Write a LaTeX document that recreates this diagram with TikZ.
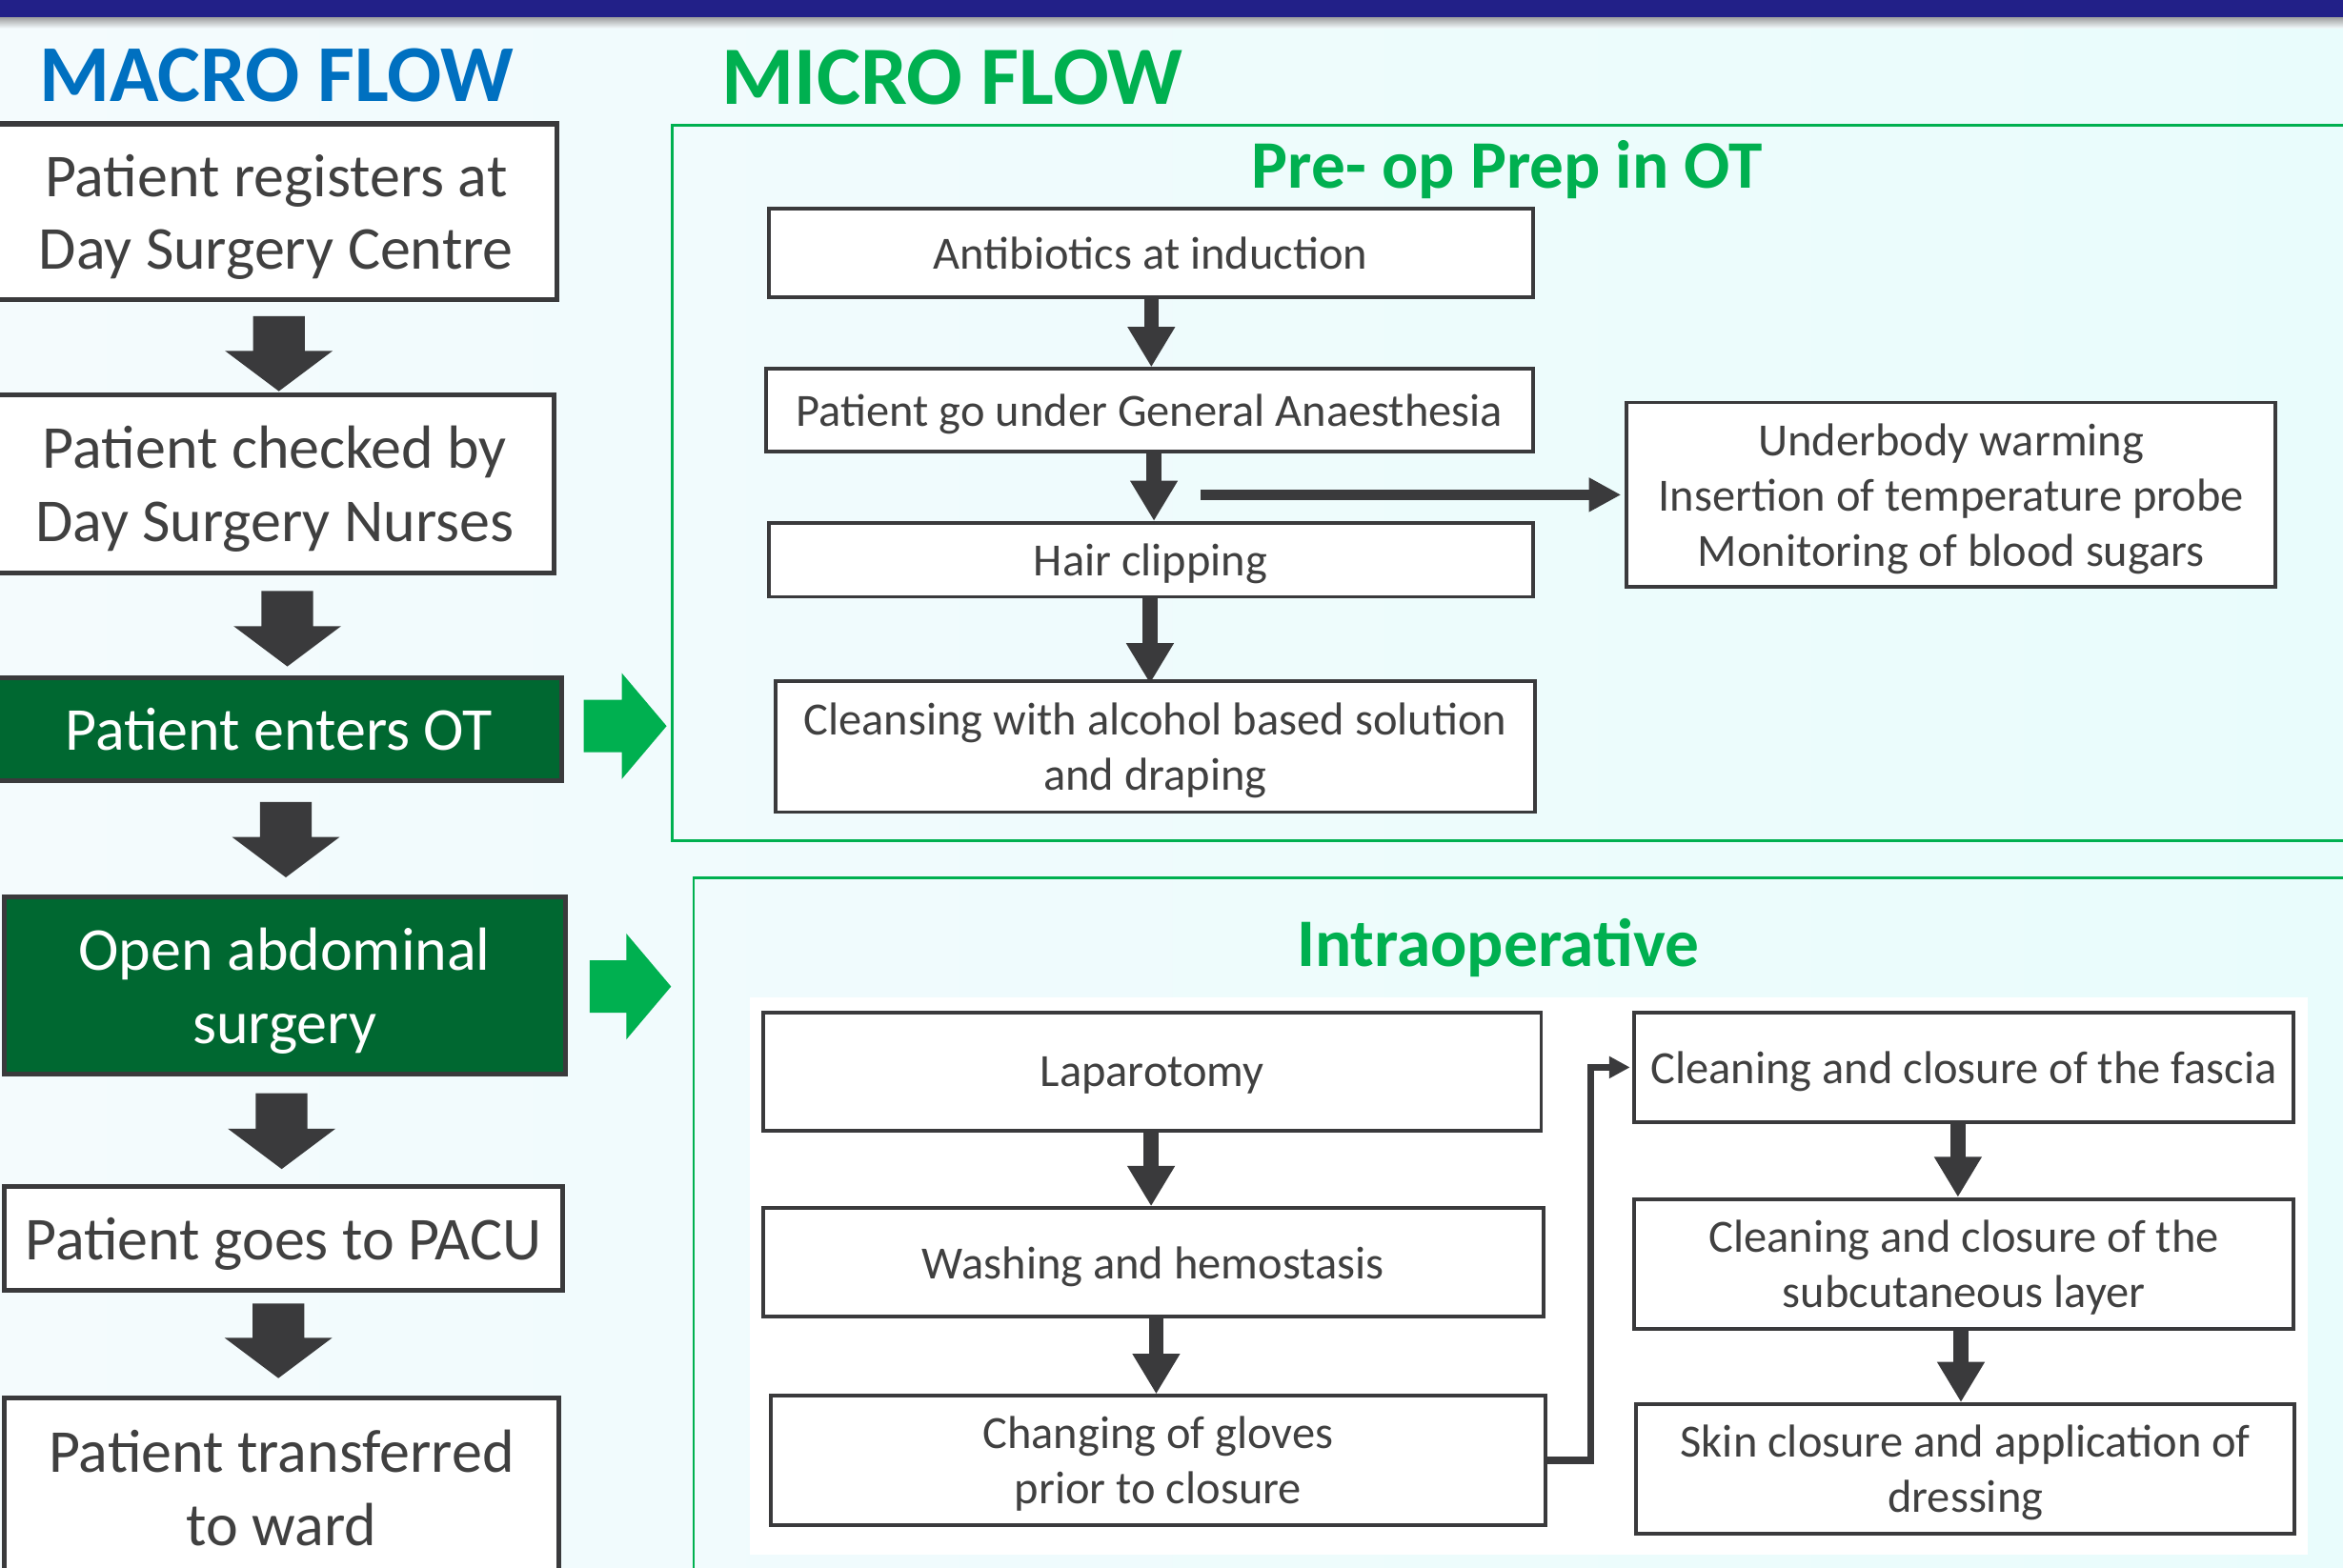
\documentclass[tikz,border=0pt]{standalone}
\usepackage{fontspec}
\setmainfont{Carlito}
\usetikzlibrary{calc,arrows.meta}

\definecolor{navy}{RGB}{34,32,136}
\definecolor{bgL}{RGB}{244,251,253}
\definecolor{bgR}{RGB}{233,252,252}
\definecolor{titleblue}{RGB}{0,112,192}
\definecolor{brightgreen}{RGB}{0,176,80}
\definecolor{darkgreen}{RGB}{0,104,49}
\definecolor{ink}{RGB}{58,58,60}
\definecolor{txt}{RGB}{64,64,64}

\tikzset{
  macrobox/.style={draw=ink, line width=3.2pt, fill=white, text=txt, align=center,
    inner sep=0pt, text depth=0pt, font=\fontsize{40.8}{49}\selectfont},
  macrohot/.style={macrobox, fill=darkgreen, text=white},
  microbox/.style={draw=ink, line width=2.5pt, fill=white, text=txt, align=center,
    inner sep=0pt, text depth=0pt, font=\fontsize{30.9}{37}\selectfont},
  panelframe/.style={draw=brightgreen, line width=1.8pt, inner sep=0pt},
  flowtitle/.style={font=\fontsize{54}{60}\selectfont\bfseries, anchor=base west, inner sep=0pt},
  paneltitle/.style={font=\fontsize{45.5}{50}\selectfont\bfseries, text=brightgreen, anchor=base, inner sep=0pt},
  vstep/.style={draw=ink, line width=10pt, -{Triangle[length=27pt,width=30pt]}},
  hstep/.style={draw=ink, line width=7.4pt, -{Triangle[length=21.5pt,width=21.5pt]}},
  elbowstep/.style={draw=ink, line width=4.7pt, -{Triangle[length=14pt,width=14pt]}},
}

% thick block arrow pointing down: #1 top of the shaft, #2 tip (only its y is used)
\newcommand\macroarrow[2]{%
  \fill[ink] let \p1=#1, \p2=#2 in
    (\x1-17.3pt,\y1) -- (\x1+17.3pt,\y1) -- (\x1+17.3pt,\y2+27pt) -- (\x1+36pt,\y2+27pt)
    -- (\x1,\y2) -- (\x1-36pt,\y2+27pt) -- (\x1-17.3pt,\y2+27pt) -- cycle;}

% green block arrow pointing right: #1 tail of the shaft, #2 tip (only its x is used)
\newcommand\sidearrow[2]{%
  \fill[brightgreen] let \p1=#1, \p2=#2 in
    (\x1,\y1+17.5pt) -- (\x2-30pt,\y1+17.5pt) -- (\x2-30pt,\y1+35.5pt) -- (\x2,\y1)
    -- (\x2-30pt,\y1-35.5pt) -- (\x2-30pt,\y1-17.5pt) -- (\x1,\y1-17.5pt) -- cycle;}

\begin{document}
\begin{tikzpicture}[x=1pt, y=-1pt]
\useasboundingbox (0,0) rectangle (1568,1049);
\clip (0,0) rectangle (1568,1049);

% background and header band
\shade[left color=bgL, right color=bgR] (0,0) rectangle (1568,1049);
\shade[top color=black!40, bottom color=bgL] (0,11) rectangle (1568,19);
\fill[navy] (0,0) rectangle (1568,11.7);

% headings
\node[flowtitle, text=titleblue] (macrotitle) at (26,68) {MACRO FLOW};
\node[flowtitle, text=brightgreen, font=\fontsize{55.5}{60}\selectfont\bfseries] (microtitle) at (483,70) {MICRO FLOW};

% panels of the micro flow
\node[panelframe, minimum width=1130pt, minimum height=478.5pt] (preop) at (1015,323.25) {};
\node[panelframe, minimum width=1115.8pt, minimum height=477.5pt] (intra) at (1022.1,826.25) {};
\fill[white] (502,667.8) rectangle (1544.3,1040.5);
\node[paneltitle] (preoptitle) at (1008.75,126) {Pre- op Prep in OT};
\node[paneltitle] (intratitle) at (1002.45,646.6) {Intraoperative};

% macro flow
\node[macrobox, minimum width=375.5pt, minimum height=117.9pt] (b1) at (184.75,141.85) {Patient registers at\\Day Surgery Centre};
\node[macrobox, minimum width=373.7pt, minimum height=118.9pt] (b2) at (183.85,324) {Patient checked by\\Day Surgery Nurses};
\node[macrohot, minimum width=379pt, minimum height=68.8pt] (b3) at (186.5,488.1) {Patient enters OT};
\node[macrohot, minimum width=375.7pt, minimum height=118.5pt] (b4) at (190.45,659.85) {Open abdominal\\surgery};
\node[macrobox, minimum width=374.1pt, minimum height=69.1pt] (b5) at (189.65,829.05) {Patient goes to PACU};
\node[macrobox, minimum width=371.5pt, minimum height=120.2pt] (b6) at (188.35,996) {Patient transferred\\to ward};

\macroarrow{($(b1.south)+(1.85,9.2)$)}{($(b2.north)+(0,-1.1)$)}
\macroarrow{($(b2.south)+(8.45,10.5)$)}{($(b3.north)+(0,-6)$)}
\macroarrow{($(b3.south)+(4.8,12.7)$)}{($(b4.north)+(0,-11.7)$)}
\macroarrow{($(b4.south)+(-1.95,11.1)$)}{($(b5.north)+(0,-10.4)$)}
\macroarrow{($(b5.south)+(-3.35,7.3)$)}{($(b6.north)+(0,-11.8)$)}

\sidearrow{($(b3.east)+(13,-2.1)$)}{($(preop.west)+(-3,0)$)}
\sidearrow{($(b4.east)+(14.7,0.5)$)}{($(intra.west)+(-14.2,0)$)}

% pre-op preparation
\node[microbox, minimum width=511.4pt, minimum height=59.5pt] (anti) at (770,169.35) {Antibiotics at induction};
\node[microbox, minimum width=512.9pt, minimum height=55pt] (ga) at (769.25,274.5) {Patient go under General Anaesthesia};
\node[microbox, minimum width=511.4pt, minimum height=49.5pt] (hair) at (770,374.75) {Hair clipping};
\node[microbox, minimum width=507.8pt, minimum height=87.8pt] (cleanse) at (773.2,499.7) {Cleansing with alcohol based solution\\and draping};
\node[microbox, minimum width=434.3pt, minimum height=123.6pt] (warm) at (1305.75,331.2) {Underbody warming\\Insertion of temperature probe\\Monitoring of blood sugars};

\draw[vstep] ([xshift=0.5pt]anti.south) -- ([xshift=0.5pt]anti.south |- ga.north);
\draw[vstep] ([xshift=3pt]ga.south) -- ([xshift=3pt]ga.south |- hair.north);
\draw[vstep] ([xshift=-0.4pt]hair.south) -- ([xshift=-0.4pt,yshift=-3pt]hair.south |- cleanse.north);
\coordinate (hstart) at (803.5,331.2);
\draw[hstep] (hstart) -- ([xshift=-2.5pt]warm.west);

% intraoperative steps
\node[microbox, minimum width=520.7pt, minimum height=78.8pt] (lap) at (771.05,717.2) {Laparotomy};
\node[microbox, minimum width=522.1pt, minimum height=72.7pt] (wash) at (771.75,845.05) {Washing and hemostasis};
\node[microbox, minimum width=518.6pt, minimum height=86.4pt] (glove) at (775,977.6) {Changing of gloves\\prior to closure};
\node[microbox, minimum width=441.4pt, minimum height=73.3pt] (fascia) at (1314.3,714.45) {Cleaning and closure of the fascia};
\node[microbox, minimum width=441.4pt, minimum height=87pt] (subq) at (1314.3,846.1) {Cleaning and closure of the\\subcutaneous layer};
\node[microbox, minimum width=440.7pt, minimum height=86.9pt] (skin) at (1315.35,983.35) {Skin closure and application of\\dressing};

\draw[vstep] ([xshift=-0.7pt]lap.south) -- ([xshift=-0.7pt]lap.south |- wash.north);
\draw[vstep] ([xshift=2pt]wash.south) -- ([xshift=2pt]wash.south |- glove.north);
\draw[vstep] ([xshift=-4pt]fascia.south) -- ([xshift=-4pt]fascia.south |- subq.north);
\draw[vstep] ([xshift=-2pt]subq.south) -- ([xshift=-2pt]subq.south |- skin.north);
\draw[elbowstep] (glove.east) -- ++(29,0) |- ([xshift=-1.5pt]fascia.west);
\end{tikzpicture}
\end{document}
